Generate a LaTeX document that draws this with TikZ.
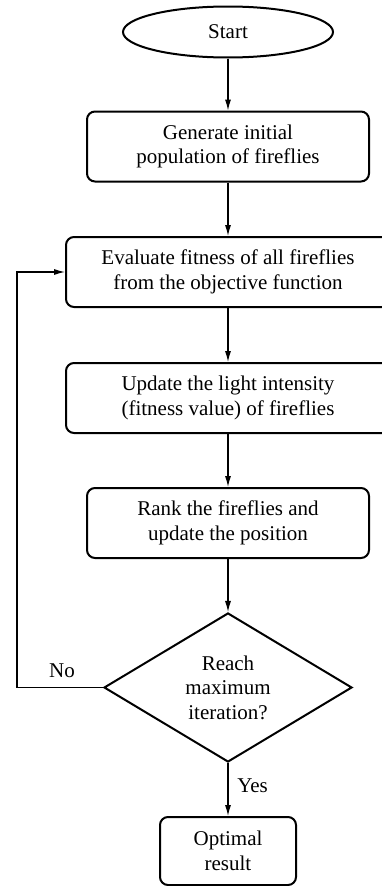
\documentclass[tikz,border=0pt]{standalone}
\usepackage{fontspec}
\setmainfont{Liberation Serif}
\usetikzlibrary{shapes.geometric}
\usetikzlibrary{arrows.meta}
\usetikzlibrary{math}

\begin{document}
\begin{tikzpicture}[x=1pt,y=-1pt,line width=2pt,
  font={\fontsize{21}{24.5}\selectfont},
  stepbox/.style={draw, rounded corners=8pt, align=center, inner sep=0pt,
    minimum height=70pt},
  arrow/.style={line width=1.2pt, -{Latex[length=11pt,width=6pt]}}]

  \tikzmath{
    \midx   = 228; % centre line of the chart
    \wide   = 324; % width of the wide boxes
    \narrow = 282; % width of the narrow boxes
    \loopx  = 17;  % x of the return line
  }

  % page size
  \useasboundingbox (0,0) rectangle (382,886);

  % Start
  \node[draw, ellipse, minimum width=210pt, minimum height=51pt, inner sep=0pt]
    (start) at (\midx, 32) {Start};

  % process boxes
  \node[stepbox, minimum width=\narrow pt] (gen) at (\midx, 146.5)
    {Generate initial\\population of fireflies};
  \node[stepbox, minimum width=\wide pt] (eval) at (\midx, 272)
    {Evaluate fitness of all fireflies\\from the objective function};
  \node[stepbox, minimum width=\wide pt] (upd) at (\midx, 398)
    {Update the light intensity\\(fitness value) of fireflies};
  \node[stepbox, minimum width=\narrow pt] (rank) at (\midx, 523)
    {Rank the fireflies and\\update the position};

  % decision
  \node[draw, diamond, minimum width=248pt, minimum height=145pt, inner sep=0pt,
    align=center] (dec) at (\midx, 687.5) {Reach\\maximum\\iteration?};

  % end
  \node[stepbox, minimum width=136pt, minimum height=68pt] (opt) at (\midx, 851)
    {Optimal\\result};

  % arrows down the chart
  \draw[arrow] (start) -- (gen);
  \draw[arrow] (gen) -- (eval);
  \draw[arrow] (eval) -- (upd);
  \draw[arrow] (upd) -- (rank);
  \draw[arrow] (rank) -- (dec);
  \draw[arrow] (dec) -- (opt);

  % return line
  \coordinate (back) at (\loopx, 687.5);
  \draw[arrow] (dec.west) -- (back) |- (eval.west);

  \node (no) at (62, 671) {No};
  \node[anchor=west] (yes) at (233, 786) {Yes};

\end{tikzpicture}
\end{document}
